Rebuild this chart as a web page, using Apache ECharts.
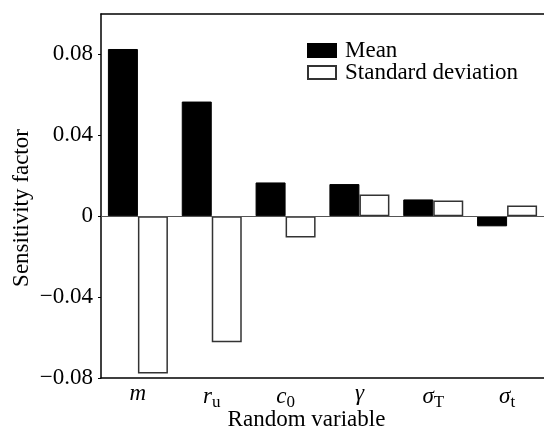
<!DOCTYPE html>
<html><head><meta charset="utf-8">
<script src="https://cdn.jsdelivr.net/npm/echarts@6/dist/echarts.min.js"></script>
<style>html,body{margin:0;padding:0;background:#fff}#c{width:544px;height:430px}</style>
</head><body><div id="c"></div>
<script>
const categories = ['m', 'ru', 'c0', 'gamma', 'sigmaT', 'sigmat'];
const meanValues = [0.0827, 0.0567, 0.0167, 0.0159, 0.0083, -0.0050];
const stdValues = [-0.0778, -0.0623, -0.0105, 0.0108, 0.0078, 0.0053];
const yTicks = [-0.08, -0.04, 0, 0.04, 0.08];

const labelRich = {
  m: '{i|m}', ru: '{i|r}{s|u}', c0: '{i|c}{s|0}', gamma: '{i|γ}',
  sigmaT: '{i|σ}{s|T}', sigmat: '{i|σ}{s|t}'
};
const font = 'Liberation Serif';
const chart = echarts.init(document.getElementById('c'));
chart.setOption({
  animation: false,
  backgroundColor: '#fff',
  grid: { left: 101, right: 0, top: 14, bottom: 52, containLabel: false, outerBoundsMode: 'none' },
  legend: {
    orient: 'vertical', left: 302, top: 34, itemWidth: 28, itemHeight: 13, itemGap: -1,
    icon: 'rect',
    textStyle: { fontFamily: font, fontSize: 23, color: '#000', padding: [0,0,0,4] },
    data: ['Mean', 'Standard deviation']
  },
  xAxis: [{
    type: 'category', data: categories, position: 'bottom',
    name: 'Random variable', nameLocation: 'middle', nameGap: 30, nameMoveOverlap: false,
    nameTextStyle: { fontFamily: font, fontSize: 23, color: '#000', verticalAlign: 'top', padding: [0,32,0,0] },
    axisLine: { onZero: false, lineStyle: { color: '#000', width: 1.5 } },
    axisTick: { show: false },
    axisLabel: {
      margin: 4,
      formatter: v => labelRich[v],
      rich: {
        i: { fontFamily: font, fontStyle: 'italic', fontSize: 23, color: '#000' },
        s: { fontFamily: font, fontSize: 17, color: '#000', padding: [12,0,0,0] }
      }
    }
  }, {
    type: 'category', data: categories, position: 'top',
    axisLine: { show: true, onZero: false, lineStyle: { color: '#000', width: 1.5 } },
    axisTick: { show: false }, axisLabel: { show: false }
  }],
  yAxis: {
    type: 'value', min: -0.08, max: 0.1, interval: 0.04,
    name: 'Sensitivity factor', nameLocation: 'middle', nameGap: 68, nameMoveOverlap: false,
    nameTextStyle: { fontFamily: font, fontSize: 23, color: '#000', padding: [0,24,0,0] },
    axisLine: { show: true, lineStyle: { color: '#000', width: 1.5 } },
    axisTick: { show: true, length: 3, inside: false, lineStyle: { color: '#000' } },
    splitLine: { show: false },
    axisLabel: {
      showMaxLabel: false, margin: 8,
      fontFamily: font, fontSize: 23, color: '#000',
      formatter: v => {
        if (Math.abs(v) < 1e-9) return '0';
        if (!yTicks.some(t => Math.abs(t - v) < 1e-9)) return '';
        return (v < 0 ? '\u22120' : '0') + Math.abs(v).toFixed(2).slice(1);
      }
    }
  },
  series: [{
    name: 'Mean', type: 'bar', data: meanValues, barWidth: 30, barGap: '0%',
    itemStyle: { color: '#000', borderColor: '#000', borderWidth: 1 }
  }, {
    name: 'Standard deviation', type: 'bar', data: stdValues, barWidth: 30, barGap: '0%',
    itemStyle: { color: '#fff', borderColor: '#333', borderWidth: 1.5 },
    markLine: {
      silent: true, symbol: 'none', label: { show: false },
      lineStyle: { color: '#555', type: 'solid', width: 1.2 },
      data: [{ yAxis: 0 }]
    }
  }]
});
</script></body></html>
